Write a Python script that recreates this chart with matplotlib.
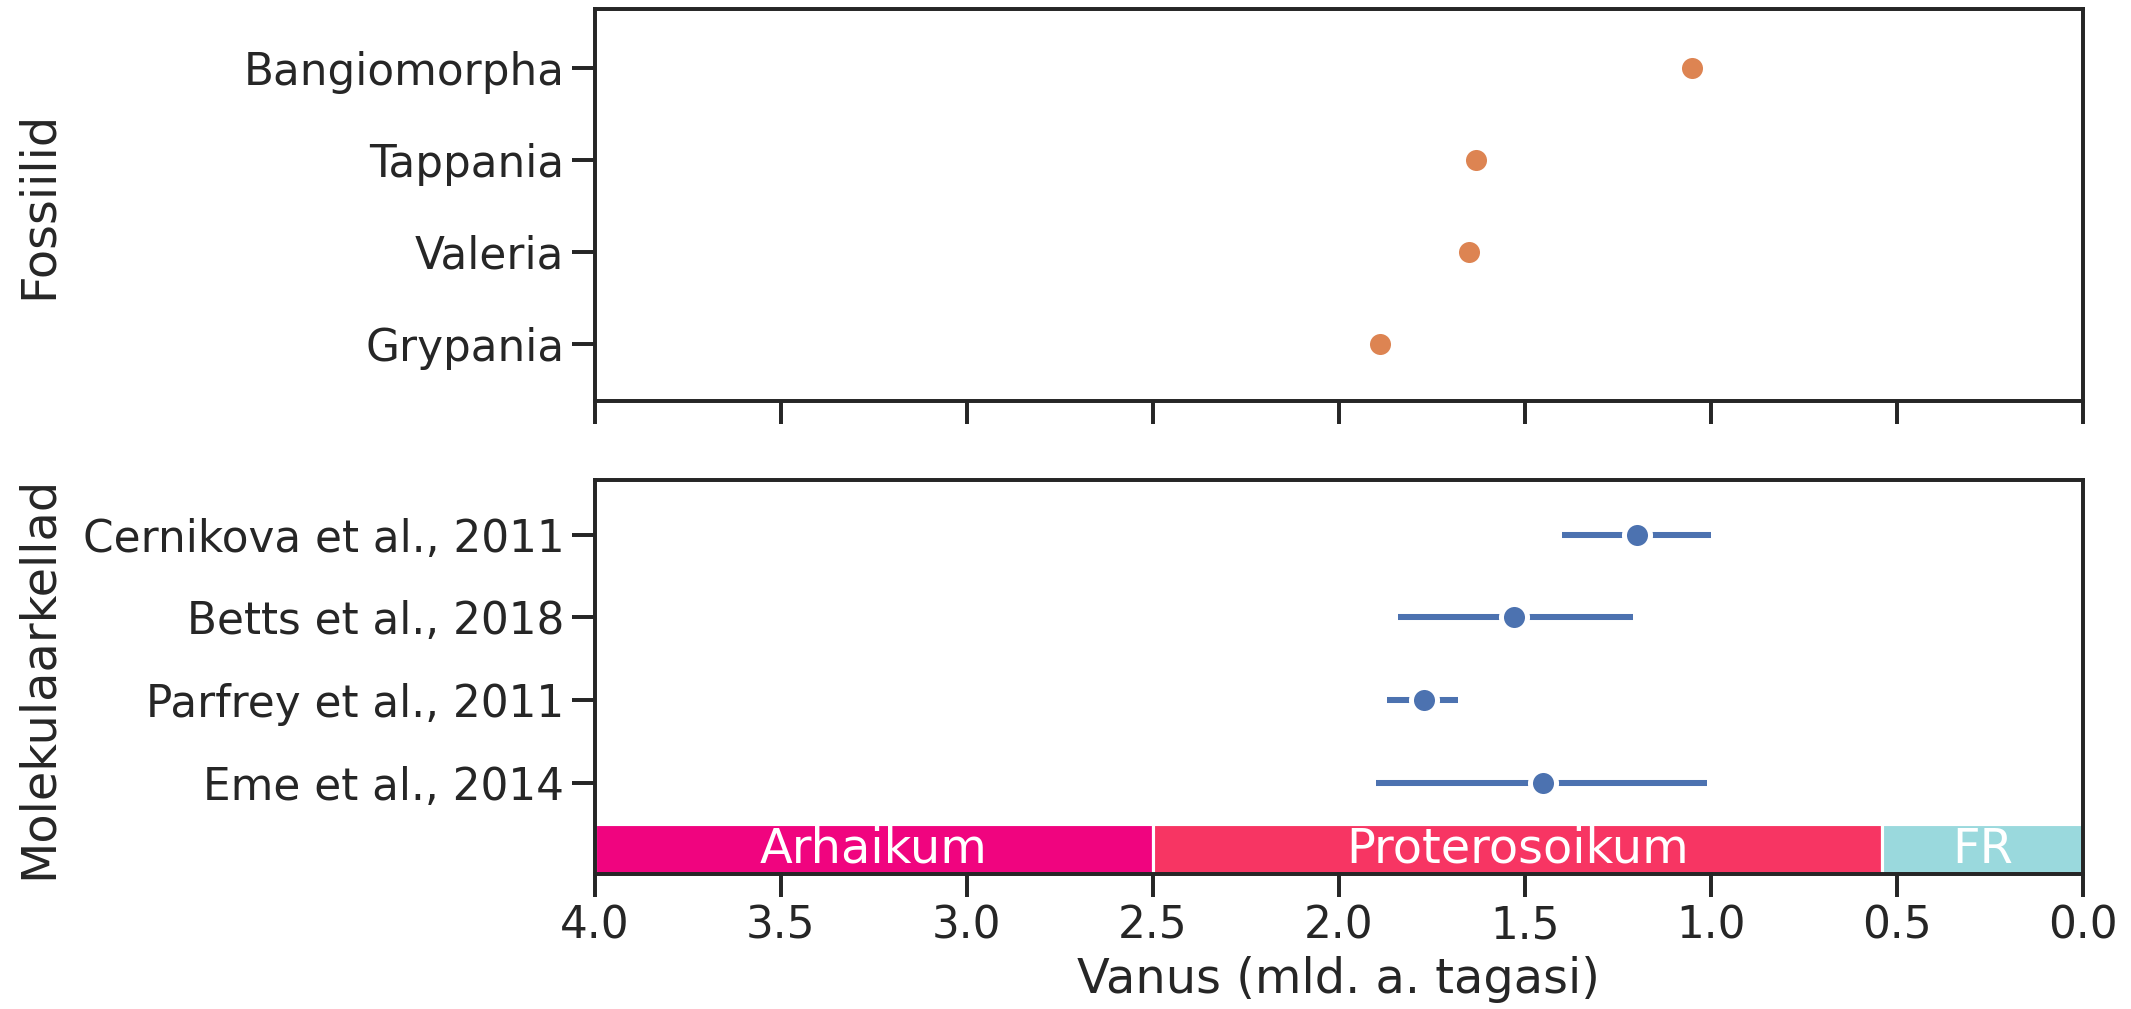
import matplotlib
matplotlib.use("Agg")
import matplotlib.pyplot as plt

# data (ages in billions of years ago)
fossil_names = ["Bangiomorpha", "Tappania", "Valeria", "Grypania"]
fossil_ages = [1.05, 1.63, 1.65, 1.89]

clock_names = ["Cernikova et al., 2011", "Betts et al., 2018",
               "Parfrey et al., 2011", "Eme et al., 2014"]
clock_ages = [1.20, 1.53, 1.77, 1.45]
clock_low = [1.00, 1.21, 1.68, 1.01]   # youngest bound
clock_high = [1.40, 1.84, 1.87, 1.90]  # oldest bound

eon_names = ["Arhaikum", "Proterosoikum", "FR"]
eon_start = [4.0, 2.5, 0.541]
eon_end = [2.5, 0.541, 0.0]
eon_colors = ["#F0047F", "#F73563", "#9AD9DD"]
age_ticks = [4.0, 3.5, 3.0, 2.5, 2.0, 1.5, 1.0, 0.5, 0.0]

dark = "#262626"
plt.rcParams.update({
    "font.family": "DejaVu Sans",
    "font.size": 21,
    "text.color": dark,
    "axes.edgecolor": dark,
    "axes.labelcolor": dark,
    "axes.labelsize": 23,
    "axes.linewidth": 1.9,
    "xtick.color": dark,
    "ytick.color": dark,
    "xtick.major.width": 1.9,
    "ytick.major.width": 1.9,
    "xtick.major.size": 11,
    "ytick.major.size": 11,
    "xtick.labelsize": 21,
    "ytick.labelsize": 21,
})

fig = plt.figure(figsize=(2131 / 150, 1009 / 150), dpi=150)
ax_top = fig.add_axes([0.279, 0.6026, 0.6985, 0.388])
ax_bot = fig.add_axes([0.279, 0.1338, 0.6985, 0.3905], sharex=ax_top)

marker_kw = dict(marker="o", ms=12.5, mew=2.4, mec="white", linestyle="none")

# fossils
ax_top.plot(fossil_ages, range(len(fossil_names)), color="#DD8452", **marker_kw)
ax_top.set_yticks(range(len(fossil_names)))
ax_top.set_yticklabels(fossil_names)
ax_top.set_ylim(3.62, -0.635)
ax_top.tick_params(axis="x", labelbottom=False)
ax_top.set_ylabel("Fossiilid")

# molecular clocks
ypos = list(range(len(clock_names)))
xerr = [[c - lo for c, lo in zip(clock_ages, clock_low)],
        [hi - c for c, hi in zip(clock_ages, clock_high)]]
ax_bot.errorbar(clock_ages, ypos, xerr=xerr, color="#4C72B0", elinewidth=2.9,
                capsize=0, **marker_kw)
ax_bot.set_yticks(ypos)
ax_bot.set_yticklabels(clock_names)

# eon band
for name, s, e, col in zip(eon_names, eon_start, eon_end, eon_colors):
    ax_bot.barh(3.8, e - s, left=s, height=0.6, color=col,
                edgecolor="white", linewidth=1.5)
    ax_bot.text((s + e) / 2, 3.8, name, color="white", ha="center",
                va="center", fontsize=23)

ax_bot.set_ylim(4.1, -0.66)
ax_bot.set_xlim(4.0, 0.0)
ax_bot.set_xticks(age_ticks)
ax_bot.set_xticklabels([f"{t:.1f}" for t in age_ticks])
ax_bot.set_xlabel("Vanus (mld. a. tagasi)")
ax_bot.set_ylabel("Molekulaarkellad")

for ax in (ax_top, ax_bot):
    ax.yaxis.set_label_coords(-0.358, 0.5)

fig.savefig("out.png", dpi=150)
